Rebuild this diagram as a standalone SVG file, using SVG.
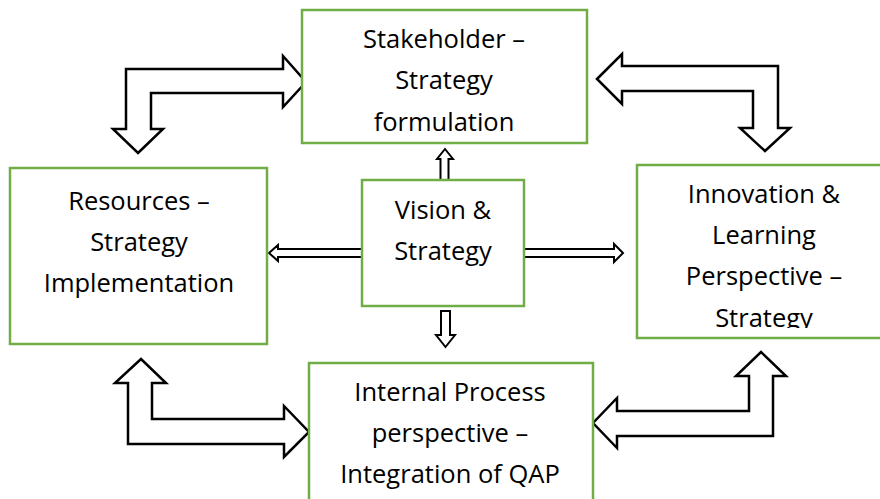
<svg xmlns="http://www.w3.org/2000/svg" width="880" height="499" viewBox="0 0 880 499">
<defs>
<style>
.box{fill:#fff;stroke:#70AD47;stroke-width:2.5}
.t{font-family:"Open Sans","Liberation Sans",sans-serif;font-size:25.5px;fill:#000;text-anchor:middle}
.arr{fill:#fff;stroke:#000;stroke-width:2.5;stroke-linejoin:miter}
.sm{fill:#fff;stroke:#000;stroke-width:2}
</style>
<clipPath id="clipR"><rect x="638" y="166" width="250" height="162"/></clipPath>
</defs>
<rect width="880" height="499" fill="#fff"/>
<g id="connectors">
<polygon class="arr" points="138,153 163,129 151,129 151,93 283,93 283,107 306,82 283,56 283,69 126,69 126,129 113,129"/>
<polygon class="arr" points="597,79 622,54 622,66 778,66 778,128 790,128 765,151 740,128 753,128 753,91 622,91 622,104"/>
<polygon class="arr" points="141,359 166,383 152,383 152,419 284,419 284,406 309,432 284,457 284,444 128,444 128,383 115,383"/>
<polygon class="arr" points="761,352 786,376 773,376 773,436 617,436 617,448 593,423 617,398 617,411 749,411 749,376 736,376"/>
<polygon class="sm" points="445,149 453,159 448.5,159 448.5,180 440.5,180 440.5,159 437,159"/>
<polygon class="sm" points="269,253 278,245 278,249 366,249 366,257 278,257 278,261"/>
<polygon class="sm" points="623,253 614,244 614,249 524,249 524,257 614,257 614,262"/>
<polygon class="sm" points="445.5,347 455,335 450,335 450,311 441,311 441,335 436,335"/>
</g>
<g id="node-stakeholder">
<rect class="box" x="302" y="10" width="285" height="133"/>
<text class="t" x="444" y="48">Stakeholder –</text>
<text class="t" x="444" y="89">Strategy</text>
<text class="t" x="444" y="131">formulation</text>
</g>
<g id="node-resources">
<rect class="box" x="10" y="168" width="257" height="176"/>
<text class="t" x="139" y="210">Resources –</text>
<text class="t" x="139" y="251">Strategy</text>
<text class="t" x="139" y="292">Implementation</text>
</g>
<g id="node-vision">
<rect class="box" x="362" y="180" width="162" height="126"/>
<text class="t" x="443" y="219">Vision &amp;</text>
<text class="t" x="443" y="260">Strategy</text>
</g>
<g id="node-innovation">
<rect class="box" x="637" y="165" width="253" height="173"/>
<g clip-path="url(#clipR)">
<text class="t" x="764" y="203">Innovation &amp;</text>
<text class="t" x="764" y="244">Learning</text>
<text class="t" x="764" y="285">Perspective –</text>
<text class="t" x="764" y="327">Strategy</text>
</g>
</g>
<g id="node-internal">
<rect class="box" x="309" y="363" width="284" height="150"/>
<text class="t" x="450" y="401">Internal Process</text>
<text class="t" x="450" y="442">perspective –</text>
<text class="t" x="450" y="483">Integration of QAP</text>
</g>
</svg>
